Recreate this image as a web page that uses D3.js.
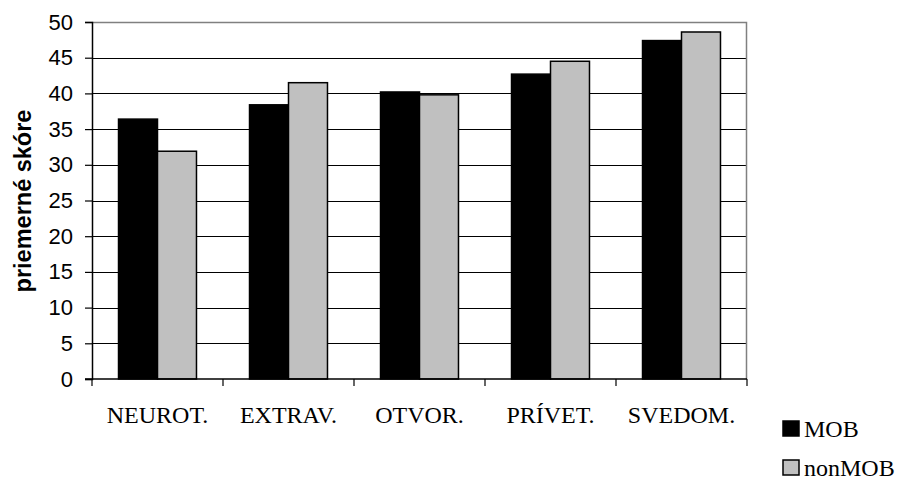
<!DOCTYPE html>
<html>
<head>
<meta charset="utf-8">
<script src="https://cdn.jsdelivr.net/npm/d3@7"></script>
<style>
  html, body { margin: 0; padding: 0; background: #fff; }
  svg { display: block; }
</style>
</head>
<body>
<script>
// Mean scores of personality factors, MOB vs nonMOB groups
const categories = ["NEUROT.", "EXTRAV.", "OTVOR.", "PRÍVET.", "SVEDOM."];
const seriesNames = ["MOB", "nonMOB"];
const mobValues = [36.4, 38.4, 40.2, 42.7, 47.4];
const nonMobValues = [31.9, 41.5, 39.8, 44.5, 48.6];
const yTicks = [0, 5, 10, 15, 20, 25, 30, 35, 40, 45, 50];
const yTitle = "priemerné skóre";

const colors = { MOB: "#000000", nonMOB: "#c0c0c0" };

const W = 901, H = 480;
const plot = { left: 92, right: 747, top: 22, bottom: 379 };

const svg = d3.select("body").append("svg")
  .attr("width", W).attr("height", H);

const x0 = d3.scaleBand().domain(categories).range([plot.left, plot.right]).padding(0);
const x1 = d3.scaleBand().domain(seriesNames).range([0, x0.bandwidth()])
  .paddingInner(0).paddingOuter(0.68);
const y = d3.scaleLinear().domain([0, 50]).range([plot.bottom, plot.top]);

// gridlines
svg.append("g").selectAll("line").data(yTicks.filter(d => d > 0 && d < 50)).join("line")
  .attr("x1", plot.left).attr("x2", plot.right)
  .attr("y1", d => Math.round(y(d)) + 0.5).attr("y2", d => Math.round(y(d)) + 0.5)
  .attr("stroke", "#000").attr("stroke-width", 1);

// plot frame: top and right in gray
svg.append("path")
  .attr("d", `M${plot.left},${plot.top + 0.5}H${plot.right - 0.5}V${plot.bottom}`)
  .attr("fill", "none").attr("stroke", "#808080").attr("stroke-width", 1.5);

// bars
const rows = categories.map((c, i) => ({ cat: c, vals: [
  { key: "MOB", v: mobValues[i] }, { key: "nonMOB", v: nonMobValues[i] }] }));

svg.append("g").selectAll("g").data(rows).join("g")
  .attr("transform", d => `translate(${x0(d.cat)},0)`)
  .selectAll("rect").data(d => d.vals).join("rect")
  .attr("x", d => x1(d.key))
  .attr("width", x1.bandwidth())
  .attr("y", d => y(d.v))
  .attr("height", d => y(0) - y(d.v))
  .attr("fill", d => colors[d.key])
  .attr("stroke", "#000").attr("stroke-width", 1.5);

// y axis
const yAxis = svg.append("g").attr("transform", `translate(${plot.left},0)`)
  .call(d3.axisLeft(y).tickValues(yTicks).tickSize(7).tickPadding(12));
yAxis.select(".domain").attr("stroke", "#000").attr("stroke-width", 1.5);
yAxis.selectAll(".tick line").attr("stroke", "#000").attr("stroke-width", 1.2);
yAxis.selectAll(".tick text")
  .attr("font-family", "Liberation Sans, Arial, sans-serif")
  .attr("font-size", 22).attr("fill", "#000");

// x axis with ticks at category boundaries
const xAxis = svg.append("g").attr("transform", `translate(0,${plot.bottom})`);
xAxis.append("line").attr("x1", plot.left - 7).attr("x2", plot.right)
  .attr("y1", 0).attr("y2", 0).attr("stroke", "#000").attr("stroke-width", 1.5);
const bounds = categories.map(c => x0(c)).concat([plot.right]);
xAxis.selectAll("line.tk").data(bounds).join("line").attr("class", "tk")
  .attr("x1", d => d).attr("x2", d => d).attr("y1", 0).attr("y2", 7)
  .attr("stroke", "#000").attr("stroke-width", 1.2);
xAxis.selectAll("text").data(categories).join("text")
  .attr("x", d => x0(d) + x0.bandwidth() / 2)
  .attr("y", 44)
  .attr("text-anchor", "middle")
  .attr("font-family", "Liberation Serif, Times New Roman, serif")
  .attr("font-size", 24).attr("fill", "#000")
  .text(d => d);

// y title
svg.append("text")
  .attr("transform", `translate(31,201) rotate(-90)`)
  .attr("text-anchor", "middle")
  .attr("font-family", "Liberation Sans, Arial, sans-serif")
  .attr("font-weight", "bold")
  .attr("font-size", 23.5).attr("fill", "#000")
  .text(yTitle);

// legend
const legend = svg.append("g").attr("transform", "translate(783,421)");
const li = legend.selectAll("g").data(seriesNames).join("g")
  .attr("transform", (d, i) => `translate(0,${i * 39})`);
li.append("rect").attr("width", 16).attr("height", 15)
  .attr("fill", d => colors[d]).attr("stroke", "#000").attr("stroke-width", 1.5);
li.append("text").attr("x", 21).attr("y", 16)
  .attr("font-family", "Liberation Serif, Times New Roman, serif")
  .attr("font-size", 24).attr("fill", "#000")
  .text(d => d);
</script>
</body>
</html>
